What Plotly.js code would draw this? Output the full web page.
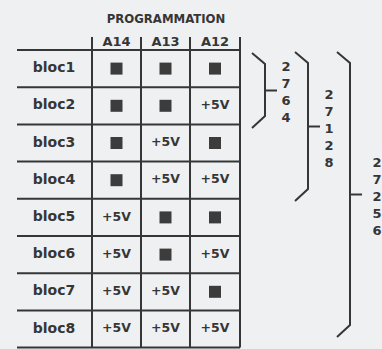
<!DOCTYPE html>
<html>
<head>
<meta charset="utf-8">
<script src="https://cdn.plot.ly/plotly-3.0.1.min.js"></script>
<style>html,body{margin:0;padding:0;background:#eef0f2;}#chart{width:382px;height:349px;}</style>
</head>
<body>
<div id="chart"></div>
<script>
// ---- data ----
const title = "PROGRAMMATION";
const columns = ["A14", "A13", "A12"];
const rows = ["bloc1", "bloc2", "bloc3", "bloc4", "bloc5", "bloc6", "bloc7", "bloc8"];
// 1 = +5V, 0 = ground (filled square)
const A14 = [0, 0, 0, 0, 1, 1, 1, 1];
const A13 = [0, 0, 1, 1, 0, 0, 1, 1];
const A12 = [0, 1, 0, 1, 0, 1, 0, 1];
const highLabel = "+5V";
const memTypes = ["2764", "27128", "27256"];
const memRows = [2, 4, 8];   // number of blocs covered by each memory

// ---- layout constants ----
const W = 382, H = 349;
const topY = 50, rowH = 37.2;
const leftX = 17;
const colLines = [92, 141, 190, 240];
const labelX = 54;
const ink = "#363636";
const font = "DejaVu Sans";
const brX = [265, 308, 350];
const brTop = [53, 52, 52];
const brBot = [128, 201, 337];
const digitDx = [21, 21, 27];

const colVals = [A14, A13, A12];
const cellX = c => (colLines[c] + colLines[c + 1]) / 2;
const rowY = r => topY + rowH * (r + 0.5);

const shapes = [];
for (let i = 0; i <= rows.length; i++) {
  const y = topY + rowH * i;
  shapes.push({type: "line", x0: leftX, x1: colLines[3], y0: y, y1: y, line: {color: ink, width: 2}});
}
colLines.forEach(x => shapes.push({type: "line", x0: x, x1: x, y0: topY - 13, y1: topY + rowH * rows.length, line: {color: ink, width: 2}}));
memTypes.forEach((m, k) => {
  const x = brX[k], t = brTop[k], b = brBot[k];
  const mid = (t + b) / 2;
  shapes.push({type: "path", path: `M ${x - 13} ${t} L ${x} ${t + 11} L ${x} ${b - 12} L ${x - 13} ${b}`, line: {color: ink, width: 2}});
  shapes.push({type: "line", x0: x, x1: x + 12, y0: mid, y1: mid, line: {color: ink, width: 2}});
});

const tf = (size, fam) => ({family: fam || font, size: size, color: ink, weight: "bold"});
const traces = [];
traces.push({x: rows.map(() => labelX), y: rows.map((_, r) => rowY(r)), text: rows, mode: "text", type: "scatter",
  textfont: tf(14), hoverinfo: "skip"});
traces.push({x: columns.map((_, c) => cellX(c)), y: columns.map(() => 43), text: columns, mode: "text", type: "scatter",
  textfont: tf(13), hoverinfo: "skip"});
const hx = [], hy = [], sx = [], sy = [];
colVals.forEach((vals, c) => vals.forEach((v, r) => {
  if (v) { hx.push(cellX(c)); hy.push(rowY(r)); } else { sx.push(cellX(c)); sy.push(rowY(r)); }
}));
traces.push({x: hx, y: hy, text: hx.map(() => highLabel), mode: "text", type: "scatter",
  textfont: tf(12.5), hoverinfo: "skip"});
traces.push({x: sx, y: sy, mode: "markers", type: "scatter",
  marker: {symbol: "square", size: 12, color: "#3c3c3c"}, hoverinfo: "skip"});
// vertical memory labels: one text per memory, one digit per line
traces.push({
  x: memTypes.map((m, k) => brX[k] + digitDx[k]),
  y: memTypes.map((m, k) => (brTop[k] + brBot[k]) / 2 + 3),
  text: memTypes.map(m => m.split("").join("<br>")),
  mode: "text", type: "scatter", textfont: tf(13), hoverinfo: "skip"});
traces.push({x: [(colLines[0] + colLines[3]) / 2], y: [20], text: [title], mode: "text", type: "scatter",
  textfont: tf(13, "DejaVu Sans Condensed"), hoverinfo: "skip"});

Plotly.newPlot("chart", traces, {
  width: W, height: H,
  margin: {l: 0, r: 0, t: 0, b: 0},
  paper_bgcolor: "#eef0f2", plot_bgcolor: "#eef0f2",
  showlegend: false,
  xaxis: {range: [0, W], visible: false, fixedrange: true},
  yaxis: {range: [H, 0], visible: false, fixedrange: true},
  shapes: shapes
}, {staticPlot: true, displayModeBar: false});
</script>
</body>
</html>
